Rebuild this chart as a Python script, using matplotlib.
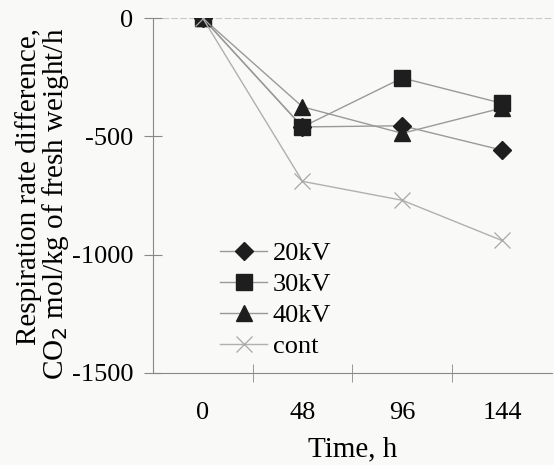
import numpy as np
import matplotlib.pyplot as plt

plt.rcParams['font.family'] = ['Liberation Serif', 'DejaVu Serif']

times = ['0', '48', '96', '144']
kv20 = [0, -460, -455, -558]
kv30 = [0, -460, -253, -360]
kv40 = [0, -375, -487, -380]
cont = [0, -690, -770, -940]

x = np.arange(len(times))

bg = '#f9f9f7'
fig = plt.figure(figsize=(5.54, 4.65), dpi=100, facecolor=bg)
ax = fig.add_axes([0.276, 0.198, 0.72, 0.763])
ax.set_facecolor(bg)

line_c = '#9a9a9a'
mk_c = '#1e1e1e'
ax.plot(x, kv20, color=line_c, lw=1, marker='D', ms=9, mfc=mk_c, mec=mk_c, label='20kV')
ax.plot(x, kv40, color=line_c, lw=1, marker='^', ms=11, mfc=mk_c, mec=mk_c, label='40kV')
ax.plot(x, kv30, color=line_c, lw=1, marker='s', ms=11.5, mfc=mk_c, mec=mk_c, label='30kV')
ax.plot(x, cont, color='#b0b0b0', lw=1, marker='x', ms=12, mew=0.9, mec='#a8a8a8', label='cont')

# light line along zero (top of plot area)
ax.axhline(0, color='#c8c8c8', lw=0.8, ls=(0, (6, 2)), zorder=0)

ax.set_xlim(-0.5, 3.5)
ax.set_ylim(-1500, 0)
ax.set_yticks([0, -500, -1000, -1500])
ax.set_yticklabels(['0', '-500', '-1000', '-1500'])
ax.set_xticks(x)
ax.set_xticklabels(times)
ax.set_xticks([0.5, 1.5, 2.5], minor=True)
ax.tick_params(axis='x', which='major', length=0, pad=21, labelsize=19)
ax.tick_params(axis='x', which='minor', direction='inout', length=12.5, color='#888888')
ax.tick_params(axis='y', direction='inout', length=12.5, pad=8, labelsize=19, color='#888888')

for s in ['top', 'right']:
    ax.spines[s].set_visible(False)
ax.spines['left'].set_color('#888888')
ax.spines['bottom'].set_color('#888888')

ax.set_xlabel('Time, h', fontsize=21)
ax.xaxis.set_label_coords(0.5, -0.215)
ax.xaxis.label.set_va('center')

fig.text(43 / 554, 1 - 204 / 465,
         'Respiration rate difference,\nCO$_2$ mol/kg of fresh weight/h',
         rotation=90, ha='center', va='center', multialignment='right',
         linespacing=0.9, fontsize=21)

h, l = ax.get_legend_handles_labels()
order = [0, 2, 1, 3]
ax.legend([h[i] for i in order], [l[i] for i in order], loc='lower left',
          bbox_to_anchor=(0.168, 0.042), frameon=False, fontsize=19,
          handlelength=1.8, handletextpad=0.2, labelspacing=0.28, borderpad=0,
          borderaxespad=0)

plt.savefig('out.png', dpi=100, facecolor=fig.get_facecolor())
